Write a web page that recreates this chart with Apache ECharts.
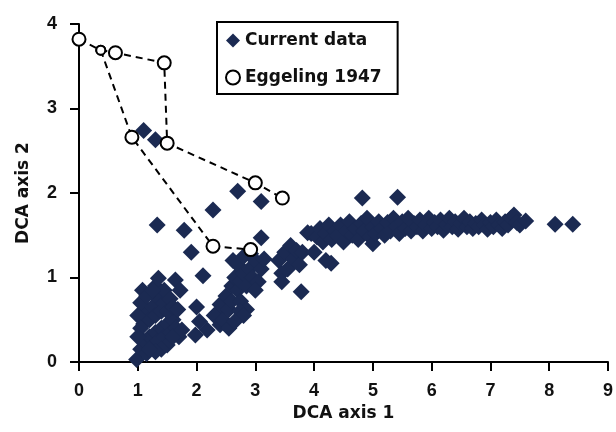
<!DOCTYPE html>
<html>
<head>
<meta charset="utf-8">
<script src="https://cdn.jsdelivr.net/npm/echarts@6/dist/echarts.min.js"></script>
<style>
  html, body { margin: 0; padding: 0; background: #fff; }
  #chart { width: 616px; height: 432px; }
</style>
</head>
<body>
<div id="chart"></div>
<script>
// DCA axis 1 / axis 2 scores
const clusterLow = [
  [0.98,0.03],[1.05,0.15],[1.1,0.25],[1.15,0.1],[1.2,0.3],[1.25,0.2],[1.3,0.35],[1.35,0.25],
  [1.4,0.4],[1.45,0.3],[1.5,0.45],[1.55,0.35],[1.6,0.5],[1.65,0.4],[1.7,0.3],[1.1,0.45],
  [1.15,0.6],[1.05,0.7],[1.08,0.85],[1.2,0.5],[1.25,0.65],[1.3,0.55],[1.35,0.75],[1.3,0.9],
  [1.35,0.99],[1.4,0.6],[1.45,0.7],[1.5,0.6],[1.45,0.85],[1.55,0.75],[1.6,0.65],[1.5,0.2],
  [1.4,0.15],[1.3,0.12],[1.2,0.15],[1.0,0.55],[1.05,0.4],[1.0,0.3],[1.15,0.78],[1.25,0.85],
  [1.6,0.3],[1.75,0.38],[1.64,0.97],[1.72,0.85],[1.68,0.62]
];
const risingBand = [
  [1.98,0.32],[2.18,0.38],[2.4,0.44],[2.0,0.65],[2.35,0.58],[2.11,1.02],[2.05,0.48],
  [2.3,0.55],[2.4,0.68],[2.45,0.5],[2.5,0.78],[2.55,0.62],[2.6,0.9],[2.6,0.72],[2.65,1.0],
  [2.7,0.85],[2.7,1.15],[2.75,0.95],[2.8,1.05],[2.8,1.25],[2.85,0.9],[2.9,1.1],[2.92,1.28],
  [2.95,1.0],[3.0,1.2],[3.05,0.95],[3.1,1.1],[3.15,1.22],[2.75,0.72],[2.85,0.62],[2.62,1.2],
  [2.74,0.6],[2.8,0.55],[2.55,0.4],[2.65,0.48],[3.1,1.47],[3.0,0.85],
  [3.4,1.2],[3.5,1.3],[3.55,1.1],[3.6,1.38],[3.65,1.22],[3.7,1.32],[3.75,1.15],[3.45,1.05],
  [3.8,1.3],[3.45,0.95],[3.78,0.83],[3.89,1.53]
];
const plateau = [
  [3.95,1.52],[4.05,1.48],[4.1,1.58],[4.15,1.42],[4.2,1.52],[4.25,1.62],[4.3,1.45],[4.35,1.55],
  [4.4,1.5],[4.45,1.62],[4.5,1.42],[4.55,1.55],[4.6,1.66],[4.65,1.5],[4.7,1.58],[4.75,1.45],
  [4.8,1.64],[4.85,1.55],[4.9,1.7],[4.95,1.48],[5.0,1.6],[5.0,1.4],[5.05,1.52],[5.1,1.66],
  [5.15,1.58],[5.2,1.5],[5.25,1.65],[5.3,1.55],[5.35,1.7],[5.4,1.6],[5.45,1.52],[5.5,1.66],
  [5.55,1.58],[5.6,1.7],[5.65,1.55],[5.7,1.64],[5.75,1.6],[5.8,1.68],[5.85,1.55],[5.9,1.62],
  [5.95,1.7],[6.0,1.58],[6.05,1.65],[6.1,1.6],[6.15,1.68],[6.2,1.56],[6.25,1.63],[6.3,1.7],
  [6.35,1.6],[6.4,1.66],[6.45,1.57],[6.5,1.64],[6.55,1.7],[6.6,1.6],[6.65,1.66],[6.7,1.58],
  [6.75,1.64],[6.8,1.6],[6.85,1.68],[6.9,1.62],[6.95,1.57],[7.0,1.65],[7.05,1.6],[7.1,1.68],
  [7.15,1.62],[7.2,1.58],[7.25,1.66],[7.3,1.62],[7.35,1.7],[7.4,1.74],[7.45,1.65],[7.5,1.62],
  [7.6,1.67],[4.0,1.3],[4.29,1.17],[4.2,1.2]
];
const outliers = [
  [1.1,2.74],[1.3,2.63],[2.28,1.8],[2.7,2.02],[3.1,1.9],[1.33,1.62],[1.79,1.56],[1.91,1.3],
  [4.82,1.94],[5.42,1.95],[8.1,1.63],[8.4,1.63]
];

const eggUpper = [[0,3.82],[0.37,3.69],[0.62,3.66],[1.45,3.54],[1.5,2.59],[3.0,2.12],[3.46,1.94]];
const eggLower = [[0.37,3.69],[0.9,2.66],[2.28,1.37],[2.92,1.33]];

const xTicks = [0, 9, 1];
const yTicks = [0, 4, 1];

const navy = '#1b2a52';
const chart = echarts.init(document.getElementById('chart'));

const labelFont = { color: '#111', fontSize: 18, fontWeight: 'bold', fontFamily: 'Liberation Sans' };
const nameFont = { color: '#111', fontSize: 17, fontWeight: 'bold', fontFamily: 'DejaVu Sans' };

const axisCommon = {
  axisLine: { show: true, lineStyle: { color: '#000', width: 2 } },
  axisTick: { show: true, length: 9, lineStyle: { color: '#000', width: 2 } },
  splitLine: { show: false },
  nameTextStyle: nameFont,
  nameLocation: 'middle'
};

// the shared point at 0.37 is drawn smaller, as in the source figure
const eggSeries = (data, smallIdx) => ({
  type: 'line',
  name: 'Eggeling 1947',
  symbol: 'circle',
  symbolSize: (v, p) => (p.dataIndex === smallIdx ? 9 : 13),
  z: 5,
  itemStyle: { color: '#fff', borderColor: '#000', borderWidth: 2 },
  lineStyle: { color: '#000', width: 2, type: [7, 5] },
  data: data
});

chart.setOption({
  animation: false,
  grid: { left: 79, right: 5, top: 24, bottom: 70 },
  xAxis: Object.assign({}, axisCommon, {
    type: 'value', min: xTicks[0], max: xTicks[1], interval: xTicks[2],
    name: 'DCA axis 1', nameGap: 40,
    axisLabel: Object.assign({}, labelFont, { margin: 20 })
  }),
  yAxis: Object.assign({}, axisCommon, {
    type: 'value', min: yTicks[0], max: yTicks[1], interval: yTicks[2],
    name: 'DCA axis 2', nameGap: 47,
    axisLabel: Object.assign({}, labelFont, { margin: 22 })
  }),
  legend: {
    orient: 'vertical',
    left: 217, top: 22,
    backgroundColor: '#fff',
    borderColor: '#000', borderWidth: 2, borderRadius: 0,
    padding: [10, 16, 8, 8],
    itemGap: 20, itemWidth: 14, itemHeight: 14,
    textStyle: { color: '#111', fontSize: 17, fontWeight: 'bold', fontFamily: 'DejaVu Sans' },
    data: [
      { name: 'Current data', icon: 'diamond' },
      { name: 'Eggeling 1947', icon: 'circle' }
    ]
  },
  series: [
    {
      type: 'scatter', name: 'Current data', symbol: 'diamond', symbolSize: 17,
      itemStyle: { color: navy, opacity: 1 },
      data: [].concat(clusterLow, risingBand, plateau, outliers)
    },
    eggSeries(eggUpper, 1),
    eggSeries(eggLower, 0)
  ]
});
</script>
</body>
</html>
